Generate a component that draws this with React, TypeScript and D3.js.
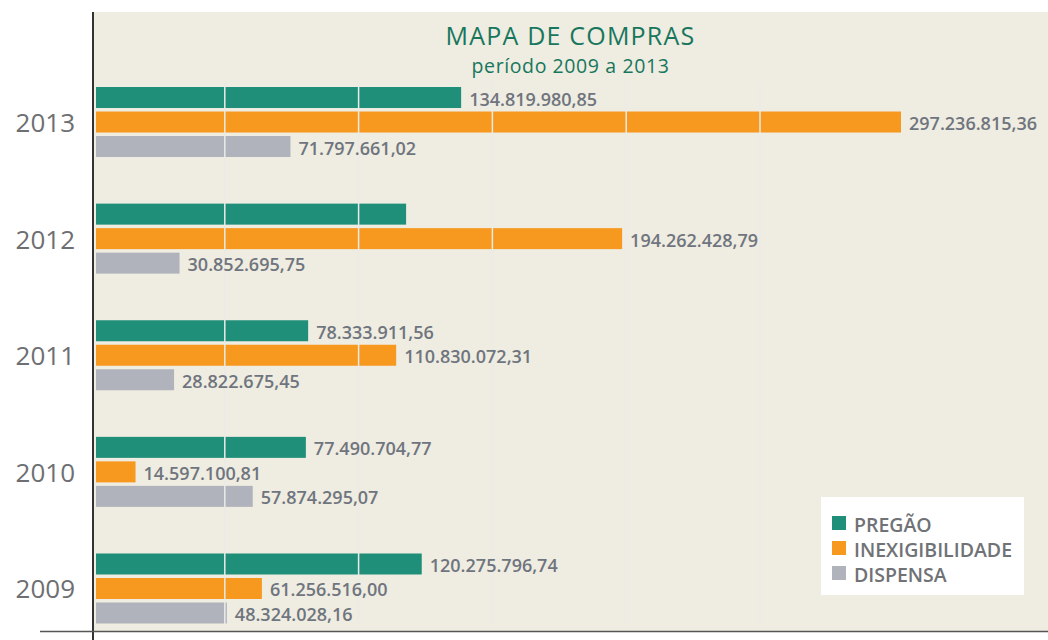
import React from "react";
import * as d3 from "d3";

const years = ["2013", "2012", "2011", "2010", "2009"];
const seriesNames = ["PREGÃO", "INEXIGIBILIDADE", "DISPENSA"];
const seriesColors = ["#1f8f7a", "#f7981f", "#b0b3bb"];
const pregao = [134819980.85, 114500000, 78333911.56, 77490704.77, 120275796.74];
const inexigibilidade = [297236815.36, 194262428.79, 110830072.31, 14597100.81, 61256516.0];
const dispensa = [71797661.02, 30852695.75, 28822675.45, 57874295.07, 48324028.16];
// 2012 PREGÃO value is not printed in the original
const pregaoLabelShown = [true, false, true, true, true];
const gridDivisions = [1, 2, 3, 4, 5];

const W = 1048;
const H = 640;

const ptBR = d3.formatLocale({
  decimal: ",",
  thousands: ".",
  grouping: [3],
  currency: ["R$", ""],
});
const fmt = ptBR.format(",.2f");

export default function App() {
  const series = [pregao, inexigibilidade, dispensa];
  const shown = [pregaoLabelShown, years.map(() => true), years.map(() => true)];

  const x = d3.scaleLinear().domain([0, d3.max(inexigibilidade) as number]).range([96, 901]);
  const y = d3.scaleBand<string>().domain(years).range([63.7, 646.8]).paddingInner(0).paddingOuter(0);
  const inner = d3
    .scaleBand<number>()
    .domain([0, 1, 2])
    .range([-36.75, 36.75])
    .paddingInner(0.143)
    .paddingOuter(0.0715);
  const grid = d3.scaleLinear().domain([0, 5]).range([91, 760]);

  const font = "'Open Sans', 'Noto Sans', sans-serif";

  return (
    <svg
      width={W}
      height={H}
      style={{ position: "absolute", left: 0, top: 0, background: "#ffffff" }}
      fontFamily={font}
    >
      <rect x={93} y={12} width={W - 93} height={620} fill="#efece1" />

      <text x={570.5} y={45} textAnchor="middle" fontSize={25} fill="#17775d" letterSpacing={1.2}>
        MAPA DE COMPRAS
      </text>
      <text x={570.5} y={73} textAnchor="middle" fontSize={19.5} fill="#17775d" letterSpacing={0.6}>
        período 2009 a 2013
      </text>

      {years.map((yr, gi) => {
        const cy = (y(yr) as number) + y.bandwidth() / 2;
        return (
          <g key={yr}>
            <text
              x={75}
              y={cy}
              textAnchor="end"
              dominantBaseline="central"
              fontSize={26}
              fill="#6e6f72"
            >
              {yr}
            </text>
            {series.map((vals, si) => {
              const top = cy + (inner(si) as number);
              return (
                <rect
                  key={si}
                  x={x(0)}
                  y={top}
                  width={x(vals[gi]) - x(0)}
                  height={inner.bandwidth()}
                  fill={seriesColors[si]}
                />
              );
            })}
          </g>
        );
      })}

      {gridDivisions.map((d) => (
        <line
          key={d}
          x1={grid(d)}
          x2={grid(d)}
          y1={82}
          y2={624}
          stroke="#ebebe8"
          strokeWidth={1.5}
        />
      ))}

      {years.map((yr, gi) => {
        const cy = (y(yr) as number) + y.bandwidth() / 2;
        return (
          <g key={"l" + yr}>
            {series.map((vals, si) => {
              if (!shown[si][gi]) return null;
              const mid = cy + (inner(si) as number) + inner.bandwidth() / 2;
              return (
                <text
                  key={si}
                  x={x(vals[gi]) + 8}
                  y={mid + 1}
                  dominantBaseline="central"
                  fontSize={18}
                  fontWeight={600}
                  fill="#6f757e"
                >
                  {fmt(vals[gi])}
                </text>
              );
            })}
          </g>
        );
      })}

      <line x1={93} x2={93} y1={12} y2={H} stroke="#333" strokeWidth={2} />
      <line x1={40} x2={W} y1={631.5} y2={631.5} stroke="#555" strokeWidth={1.5} />

      <g>
        <rect x={821} y={497} width={203} height={98} fill="#ffffff" />
        {seriesNames.map((name, i) => {
          const cy = 523 + i * 25;
          return (
            <g key={name}>
              <rect x={832} y={cy - 7} width={14} height={14} fill={seriesColors[i]} />
              <text
                x={854}
                y={cy + 1}
                dominantBaseline="central"
                fontSize={19.5}
                fontWeight={600}
                fill="#707276"
              >
                {name}
              </text>
            </g>
          );
        })}
      </g>
    </svg>
  );
}
